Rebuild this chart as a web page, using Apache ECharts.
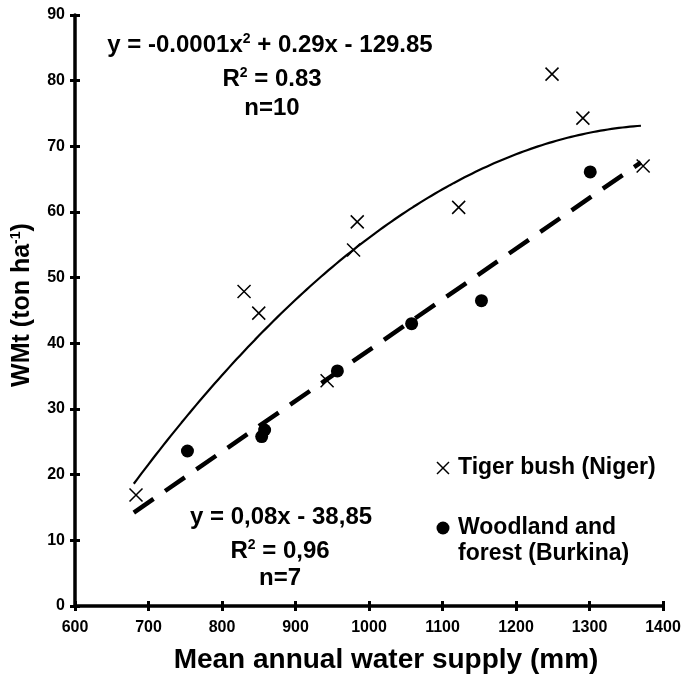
<!DOCTYPE html>
<html><head><meta charset="utf-8">
<script src="https://cdn.jsdelivr.net/npm/echarts@6/dist/echarts.min.js"></script>
<style>html,body{margin:0;padding:0;background:#fff}#c{width:684px;height:679px}</style>
</head><body><div id="c"></div>
<script>
// Tiger bush (Niger)
const tigerX = [683, 830, 850, 943, 979, 984, 1122, 1249, 1291, 1373];
const tigerY = [16.9, 47.9, 44.6, 34.3, 54.2, 58.5, 60.7, 81.0, 74.3, 67.0];
// Woodland and forest (Burkina)
const woodX = [753, 854, 858, 957, 1058, 1153, 1301];
const woodY = [23.6, 25.8, 26.8, 35.8, 43.0, 46.5, 66.1];
const xTicks = [600, 700, 800, 900, 1000, 1100, 1200, 1300, 1400];
const yTicks = [0, 10, 20, 30, 40, 50, 60, 70, 80, 90];
const trendRange = [680, 1370];

// least squares fits (trendlines)
function linFit(xs, ys) {
  const n = xs.length, mx = xs.reduce((a,b)=>a+b)/n, my = ys.reduce((a,b)=>a+b)/n;
  let sxy=0, sxx=0;
  for (let i=0;i<n;i++){sxy+=(xs[i]-mx)*(ys[i]-my);sxx+=(xs[i]-mx)**2;}
  const b = sxy/sxx; return x => my + b*(x-mx);
}
function quadFit(xs, ys) {
  const n = xs.length, mx = xs.reduce((a,b)=>a+b)/n;
  const u = xs.map(x=>(x-mx)/100);
  let S=[0,0,0,0,0], T=[0,0,0];
  for (let i=0;i<n;i++){for(let k=0;k<5;k++)S[k]+=u[i]**k;for(let k=0;k<3;k++)T[k]+=ys[i]*u[i]**k;}
  const A=[[S[0],S[1],S[2],T[0]],[S[1],S[2],S[3],T[1]],[S[2],S[3],S[4],T[2]]];
  for(let i=0;i<3;i++){for(let j=i+1;j<3;j++){const f=A[j][i]/A[i][i];for(let k=i;k<4;k++)A[j][k]-=f*A[i][k];}}
  const c=[0,0,0];
  for(let i=2;i>=0;i--){let s=A[i][3];for(let k=i+1;k<3;k++)s-=A[i][k]*c[k];c[i]=s/A[i][i];}
  return x => {const v=(x-mx)/100; return c[0]+c[1]*v+c[2]*v*v;};
}
const qf = quadFit(tigerX, tigerY), lf = linFit(woodX, woodY);
const quadLine = [], linLine = [];
for (let x = trendRange[0]; x <= trendRange[1]; x += 5) quadLine.push([x, qf(x)]);
linLine.push([trendRange[0], lf(trendRange[0])], [trendRange[1], lf(trendRange[1])]);

const F = '"Liberation Sans", Arial, sans-serif';
const crossPath = 'path://M0,0L10,10M10,0L0,10';
const chart = echarts.init(document.getElementById('c'), null, {renderer:'canvas'});
const axisCommon = {
  type:'value', axisLine:{show:true,lineStyle:{color:'#000',width:3.5}},
  splitLine:{show:false}
};
const sup = {font:'bold 14px '+F, padding:[0,0,12,0]};
chart.setOption({
  animation:false,
  backgroundColor:'#fff',
  grid:{left:75, right:21, top:15, bottom:73},
  xAxis:[
    Object.assign({}, axisCommon, {min:600,max:1400,interval:100,
      axisTick:{show:true,length:5,lineStyle:{color:'#000',width:3}},
      axisLabel:{color:'#000',fontFamily:F,fontWeight:'bold',fontSize:16,margin:14,
        formatter:v=>xTicks.includes(v)?String(v):''}}),
    Object.assign({}, axisCommon, {min:600,max:1400,interval:100,position:'bottom',
      axisLine:{show:false},axisTick:{show:true,inside:true,length:5,lineStyle:{color:'#000',width:3}},
      axisLabel:{show:false}})
  ],
  yAxis:[
    Object.assign({}, axisCommon, {min:0,max:90,interval:10,
      axisTick:{show:true,length:5,lineStyle:{color:'#000',width:3}},
      axisLabel:{color:'#000',fontFamily:F,fontWeight:'bold',fontSize:16,margin:10,
        formatter:v=>yTicks.includes(v)?String(v):''}}),
    Object.assign({}, axisCommon, {min:0,max:90,interval:10,position:'left',
      axisLine:{show:false},axisTick:{show:true,inside:true,length:5,lineStyle:{color:'#000',width:3}},
      axisLabel:{show:false}})
  ],
  series:[
    {type:'line', data:quadLine, showSymbol:false, smooth:false, lineStyle:{color:'#000',width:2.2}, z:2},
    {type:'line', data:linLine, showSymbol:false, lineStyle:{color:'#000',width:4.5,type:[24,14]}, z:2},
    {type:'scatter', data:tigerX.map((x,i)=>[x,tigerY[i]]), symbol:crossPath, symbolSize:13,
      itemStyle:{color:'rgba(0,0,0,0)',borderColor:'#000',borderWidth:1.5,opacity:1}, z:3},
    {type:'scatter', data:woodX.map((x,i)=>[x,woodY[i]]), symbol:'circle', symbolSize:13,
      itemStyle:{color:'#000',opacity:1}, z:3}
  ],
  graphic:[
    {type:'text', x:270, y:45, style:{text:'y = -0.0001x{s|2} + 0.29x - 129.85', align:'center', verticalAlign:'middle',
      font:'bold 24px '+F, fill:'#000', rich:{s:sup}}},
    {type:'text', x:272, y:79, style:{text:'R{s|2} = 0.83', align:'center', verticalAlign:'middle',
      font:'bold 24px '+F, fill:'#000', rich:{s:sup}}},
    {type:'text', x:272, y:108, style:{text:'n=10', align:'center', verticalAlign:'middle', font:'bold 24px '+F, fill:'#000'}},
    {type:'text', x:281, y:517, style:{text:'y = 0,08x - 38,85', align:'center', verticalAlign:'middle', font:'bold 24px '+F, fill:'#000'}},
    {type:'text', x:280, y:551, style:{text:'R{s|2} = 0,96', align:'center', verticalAlign:'middle',
      font:'bold 24px '+F, fill:'#000', rich:{s:sup}}},
    {type:'text', x:280, y:578, style:{text:'n=7', align:'center', verticalAlign:'middle', font:'bold 24px '+F, fill:'#000'}},
    {type:'line', shape:{x1:437,y1:462,x2:449,y2:474}, style:{stroke:'#000',lineWidth:1.5}},
    {type:'line', shape:{x1:449,y1:462,x2:437,y2:474}, style:{stroke:'#000',lineWidth:1.5}},
    {type:'text', x:458, y:468, style:{text:'Tiger bush (Niger)', verticalAlign:'middle', font:'bold 23px '+F, fill:'#000'}},
    {type:'circle', shape:{cx:443, cy:528, r:6.5}, style:{fill:'#000'}},
    {type:'text', x:458, y:528, style:{text:'Woodland and', verticalAlign:'middle', font:'bold 23px '+F, fill:'#000'}},
    {type:'text', x:458, y:554, style:{text:'forest (Burkina)', verticalAlign:'middle', font:'bold 23px '+F, fill:'#000'}},
    {type:'text', x:386, y:660, style:{text:'Mean annual water supply (mm)', align:'center', verticalAlign:'middle', font:'bold 28px '+F, fill:'#000'}},
    {type:'text', x:22, y:305, rotation:Math.PI/2, style:{text:'WMt (ton ha{s|-1})', align:'center', verticalAlign:'middle',
      font:'bold 25px '+F, fill:'#000', rich:{s:sup}}}
  ]
});
</script></body></html>
